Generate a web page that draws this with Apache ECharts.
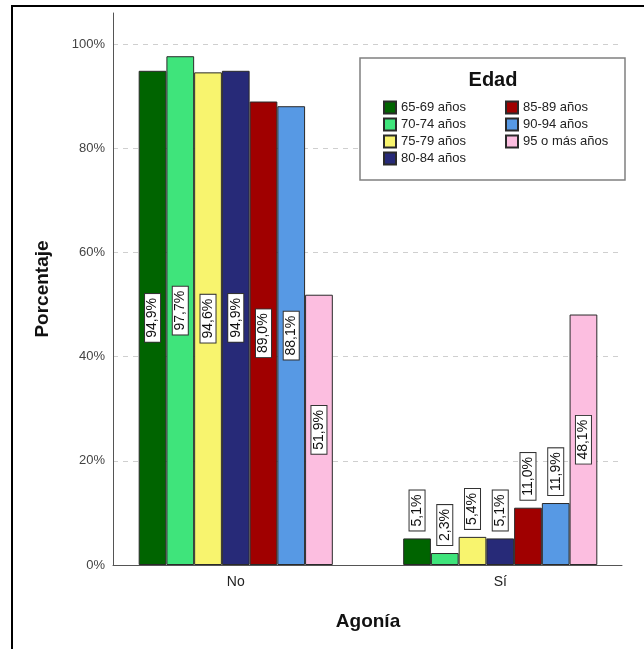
<!DOCTYPE html>
<html>
<head>
<meta charset="utf-8">
<script src="https://cdn.jsdelivr.net/npm/echarts@6/dist/echarts.min.js"></script>
<style>
  html, body { margin: 0; padding: 0; background: #fff; }
  #chart { width: 644px; height: 649px; }
</style>
</head>
<body>
<div id="chart"></div>
<script>
// Agonía (No / Sí) by age group, percentage within each group
const categories = ['No', 'Sí'];
const ageGroups = ['65-69 años', '70-74 años', '75-79 años', '80-84 años', '85-89 años', '90-94 años', '95 o más años'];
const valuesNo = [94.9, 97.7, 94.6, 94.9, 89.0, 88.1, 51.9];
const valuesSi = [5.1, 2.3, 5.4, 5.1, 11.0, 11.9, 48.1];
const yTicks = [0, 20, 40, 60, 80, 100];
const colors = ['#006400', '#3fe47b', '#f8f46e', '#272a78', '#a00000', '#5799e4', '#fcbee0'];

const FONT = 'Liberation Sans, Arial, sans-serif';
const TOP = 13, BOTTOM = 84;

function pctText(v) {
  return v.toFixed(1).replace('.', ',') + '%';
}

const labelBase = {
  show: true,
  rotate: 90,
  fontFamily: FONT,
  fontSize: 14,
  color: '#111',
  backgroundColor: '#fff',
  borderColor: '#333',
  borderWidth: 1,
  padding: [1, 4, 0, 4],
  formatter: p => pctText(p.value)
};

function makeItem(v) {
  // tall bars carry their label in the middle, short ones above
  const inside = v >= 20;
  return {
    value: v,
    label: inside
      ? Object.assign({}, labelBase, { position: 'inside', align: 'center', verticalAlign: 'middle' })
      : Object.assign({}, labelBase, { position: 'top', align: 'left', verticalAlign: 'middle', distance: 8 })
  };
}

const series = ageGroups.map((name, i) => ({
  name: name,
  type: 'bar',
  xAxisIndex: 0,
  yAxisIndex: 0,
  barGap: 0,
  barCategoryGap: '26.6%',
  itemStyle: { color: colors[i], borderColor: '#2a2a2a', borderWidth: 1 },
  emphasis: { disabled: true },
  data: [makeItem(valuesNo[i]), makeItem(valuesSi[i])]
}));

const legendCommon = {
  orient: 'vertical',
  top: 95,
  itemWidth: 12,
  itemHeight: 12,
  itemGap: 2,
  icon: 'rect',
  selectedMode: false,
  textStyle: { fontFamily: FONT, fontSize: 13, color: '#222', lineHeight: 15 },
  z: 6
};

const chart = echarts.init(document.getElementById('chart'), null, { renderer: 'canvas' });
chart.setOption({
  animation: false,
  backgroundColor: '#fff',
  grid: [
    // bars
    { left: 103.5, width: 529, top: TOP, bottom: BOTTOM },
    // visible axes
    { left: 113, right: 22, top: TOP, bottom: BOTTOM }
  ],
  xAxis: [
    {
      gridIndex: 0,
      type: 'category',
      data: categories,
      axisLine: { show: false },
      axisTick: { show: false },
      axisLabel: { fontFamily: FONT, fontSize: 14, color: '#222', margin: 10 },
      name: 'Agonía',
      nameLocation: 'middle',
      nameGap: 47,
      nameTextStyle: { fontFamily: FONT, fontSize: 19, fontWeight: 'bold', color: '#111' }
    },
    {
      gridIndex: 1,
      type: 'value',
      min: 0,
      max: 1,
      axisLine: { show: true, onZero: false, lineStyle: { color: '#555', width: 1 } },
      axisTick: { show: false },
      axisLabel: { show: false },
      splitLine: { show: false }
    }
  ],
  yAxis: [
    {
      gridIndex: 0,
      type: 'value',
      min: 0,
      max: 106,
      show: false
    },
    {
      gridIndex: 1,
      type: 'value',
      min: 0,
      max: 106,
      interval: 20,
      axisLine: { show: true, lineStyle: { color: '#555', width: 1 } },
      axisTick: { show: false },
      axisLabel: {
        fontFamily: FONT,
        fontSize: 13,
        color: '#444',
        margin: 8,
        showMaxLabel: false,
        formatter: v => (yTicks.indexOf(v) >= 0 ? v + '%' : '')
      },
      splitLine: { show: true, showMaxLine: false, lineStyle: { color: '#cfcfcf', type: [5, 5], width: 1 } },
      name: 'Porcentaje',
      nameLocation: 'middle',
      nameGap: 61,
      nameTextStyle: { fontFamily: FONT, fontSize: 19, fontWeight: 'bold', color: '#111' }
    }
  ],
  legend: [
    Object.assign({}, legendCommon, { left: 378, data: ageGroups.slice(0, 4) }),
    Object.assign({}, legendCommon, { left: 500, data: ageGroups.slice(4) })
  ],
  graphic: {
    elements: [
      {
        type: 'rect',
        z: 3,
        shape: { x: 360, y: 58, width: 265, height: 122 },
        style: { fill: '#fff', stroke: '#808080', lineWidth: 1.5 }
      },
      {
        type: 'text',
        z: 4,
        style: {
          x: 493, y: 80,
          text: 'Edad',
          fontFamily: FONT,
          fontSize: 20,
          fontWeight: 'bold',
          fill: '#111',
          textAlign: 'center',
          textVerticalAlign: 'middle'
        }
      },
      {
        type: 'rect',
        z: 10,
        silent: true,
        shape: { x: 12, y: 6, width: 700, height: 700 },
        style: { fill: 'none', stroke: '#000', lineWidth: 2 }
      }
    ]
  },
  series: series
});
</script>
</body>
</html>
